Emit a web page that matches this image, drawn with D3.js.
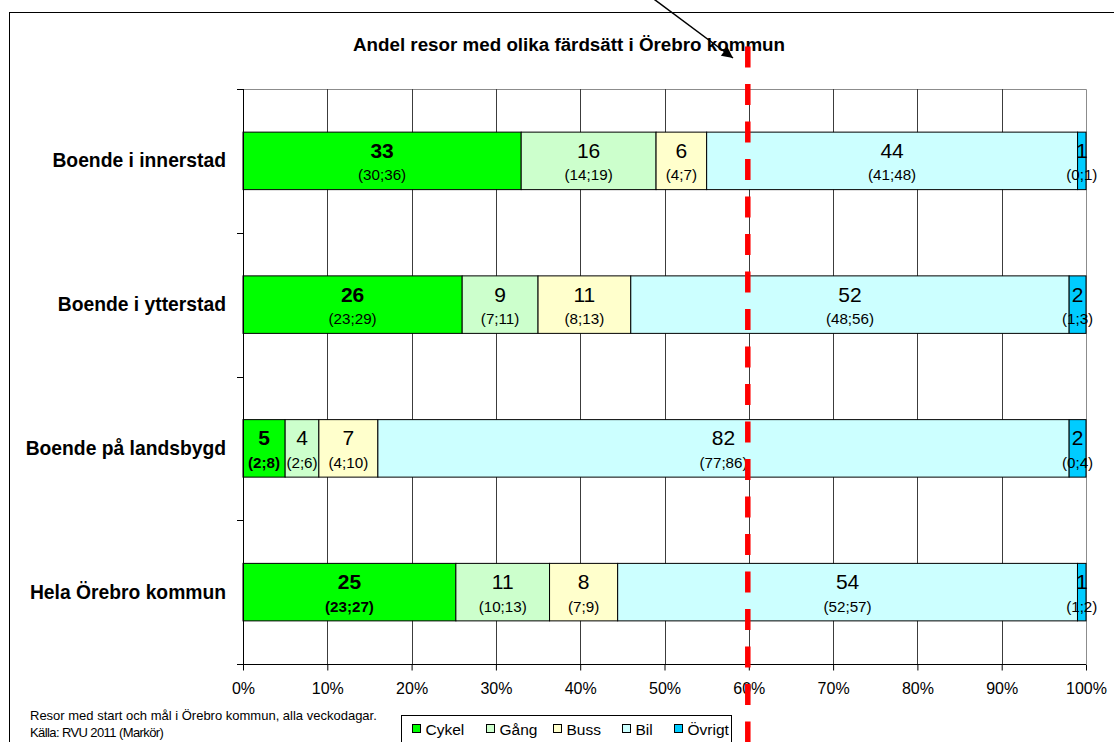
<!DOCTYPE html>
<html>
<head>
<meta charset="utf-8">
<script src="https://cdn.jsdelivr.net/npm/d3@7"></script>
<style>
  html, body { margin: 0; padding: 0; background: #fff; }
  svg { display: block; font-family: "Liberation Sans", Arial, sans-serif; }
</style>
</head>
<body>
<svg id="chart" width="1114" height="742"></svg>
<script>
// Share of trips by travel mode, per area (percent), with confidence intervals
const categories = ["Boende i innerstad", "Boende i ytterstad", "Boende på landsbygd", "Hela Örebro kommun"];
const modes = ["Cykel", "Gång", "Buss", "Bil", "Övrigt"];
const colors = ["#00FF00", "#CCFFCC", "#FFFFCC", "#CCFFFF", "#00CCFF"];

const cykel  = [33, 26, 5, 25];
const gang   = [16, 9, 4, 11];
const buss   = [6, 11, 7, 8];
const bil    = [44, 52, 82, 54];
const ovrigt = [1, 2, 2, 1];

const cykelLow  = [30, 23, 2, 23], cykelHigh  = [36, 29, 8, 27];
const gangLow   = [14, 7, 2, 10],  gangHigh   = [19, 11, 6, 13];
const bussLow   = [4, 8, 4, 7],    bussHigh   = [7, 13, 10, 9];
const bilLow    = [41, 48, 77, 52], bilHigh   = [48, 56, 86, 57];
const ovrigtLow = [0, 1, 0, 1],    ovrigtHigh = [1, 3, 4, 2];

// Cycling intervals printed in bold for these areas
const cykelCiBold = [false, false, true, true];

const xTicks = [0, 0.1, 0.2, 0.3, 0.4, 0.5, 0.6, 0.7, 0.8, 0.9, 1];
const referenceShare = 0.6;

const title = "Andel resor med olika färdsätt i Örebro kommun";
const notes = ["Resor med start och mål i Örebro kommun, alla veckodagar.", "Källa: RVU 2011 (Markör)"];

// ---- build table for the stack ----
const values = [cykel, gang, buss, bil, ovrigt];
const lows = [cykelLow, gangLow, bussLow, bilLow, ovrigtLow];
const highs = [cykelHigh, gangHigh, bussHigh, bilHigh, ovrigtHigh];
const table = categories.map((c, i) => {
  const row = { category: c, index: i };
  modes.forEach((m, k) => row[m] = values[k][i]);
  return row;
});
const series = d3.stack().keys(modes).offset(d3.stackOffsetExpand)(table);

// ---- layout ----
const svg = d3.select("#chart");
const plot = { left: 243, right: 1086, top: 89, bottom: 664 };

const x = d3.scaleLinear().domain([0, 1]).range([plot.left, plot.right]);
const y = d3.scaleBand().domain(categories).range([plot.top, plot.bottom]).paddingInner(0.6).paddingOuter(0.3);

// outer chart frame
svg.append("rect")
  .attr("x", 9.5).attr("y", 12.5).attr("width", 1120).attr("height", 760)
  .attr("fill", "none").attr("stroke", "#000").attr("stroke-width", 1);

// title
svg.append("text")
  .attr("x", 569).attr("y", 51)
  .attr("text-anchor", "middle")
  .attr("font-size", 18.8).attr("font-weight", "bold")
  .text(title);

// plot border (top / right)
svg.append("path")
  .attr("d", `M${plot.left},${plot.top + 0.5}H${plot.right + 0.5}V${plot.bottom}`)
  .attr("fill", "none").attr("stroke", "#8c8c8c").attr("stroke-width", 1);

// vertical gridlines
svg.append("g")
  .selectAll("line")
  .data(xTicks.slice(1, -1))
  .join("line")
  .attr("x1", d => Math.round(x(d)) + 0.5).attr("x2", d => Math.round(x(d)) + 0.5)
  .attr("y1", plot.top).attr("y2", plot.bottom)
  .attr("stroke", "#3c3c3c").attr("stroke-width", 1);

// stacked bars
const layer = svg.append("g").selectAll("g")
  .data(series)
  .join("g")
  .attr("fill", (d, k) => colors[k]);

layer.selectAll("rect")
  .data(d => d)
  .join("rect")
  .attr("x", d => x(d[0]))
  .attr("y", d => y(d.data.category))
  .attr("width", d => x(d[1]) - x(d[0]))
  .attr("height", y.bandwidth())
  .attr("stroke", "#000")
  .attr("stroke-width", 1);

// value labels and confidence intervals
series.forEach((s, k) => {
  const g = svg.append("g").attr("text-anchor", "middle").attr("fill", "#000");
  s.forEach((d, i) => {
    const cx = (x(d[0]) + x(d[1])) / 2;
    const cy = y(d.data.category) + y.bandwidth() / 2;
    g.append("text")
      .attr("x", cx).attr("y", cy - 3)
      .attr("font-size", 21)
      .attr("font-weight", k === 0 ? "bold" : "normal")
      .text(values[k][i]);
    g.append("text")
      .attr("x", cx).attr("y", cy + 19.5)
      .attr("font-size", 15.2)
      .attr("font-weight", k === 0 && cykelCiBold[i] ? "bold" : "normal")
      .text(`(${lows[k][i]};${highs[k][i]})`);
  });
});

// left axis with ticks at band boundaries
const bandEdges = categories.map(c => y(c) - y.step() * y.paddingInner() / 2)
  .map((v, i) => i === 0 ? plot.top : v).concat([plot.bottom]);
const yAxis = svg.append("g");
yAxis.append("line")
  .attr("x1", plot.left + 0.5).attr("x2", plot.left + 0.5)
  .attr("y1", plot.top).attr("y2", plot.bottom + 6)
  .attr("stroke", "#000");
yAxis.selectAll("line.tick")
  .data(bandEdges)
  .join("line").attr("class", "tick")
  .attr("x1", plot.left - 6).attr("x2", plot.left)
  .attr("y1", d => Math.round(d) + 0.5).attr("y2", d => Math.round(d) + 0.5)
  .attr("stroke", "#000");
yAxis.selectAll("text")
  .data(categories)
  .join("text")
  .attr("x", 226)
  .attr("y", d => y(d) + y.bandwidth() / 2 + 6.5)
  .attr("text-anchor", "end")
  .attr("font-size", 19.3).attr("font-weight", "bold")
  .text(d => d);

// bottom axis
const xAxis = d3.axisBottom(x)
  .tickValues(xTicks)
  .tickFormat(d3.format(".0%"))
  .tickSizeInner(6).tickSizeOuter(0).tickPadding(12);
const gx = svg.append("g")
  .attr("transform", `translate(0,${plot.bottom + 0.5})`)
  .call(xAxis);
gx.select(".domain").attr("d", `M${plot.left - 6},0H${plot.right}`).attr("stroke", "#000");
gx.selectAll(".tick line").attr("stroke", "#000");
gx.selectAll(".tick text")
  .attr("font-size", 16)
  .attr("font-family", "Liberation Sans, Arial, sans-serif")
  .attr("fill", "#000");

// footnote
svg.append("g").selectAll("text")
  .data(notes)
  .join("text")
  .attr("x", 30).attr("y", (d, i) => 720 + i * 17)
  .attr("font-size", 13)
  .attr("letter-spacing", (d, i) => i === 1 ? -0.6 : 0)
  .text(d => d);

// legend
const legendX = [412, 486, 553, 622, 674];
const legend = svg.append("g");
legend.append("rect")
  .attr("x", 401.5).attr("y", 715.5).attr("width", 330).attr("height", 40)
  .attr("fill", "#fff").attr("stroke", "#000");
modes.forEach((m, k) => {
  legend.append("rect")
    .attr("x", legendX[k] + 0.5).attr("y", 724.5).attr("width", 8).attr("height", 8)
    .attr("fill", colors[k]).attr("stroke", "#000");
  legend.append("text")
    .attr("x", legendX[k] + 13.5).attr("y", 735)
    .attr("font-size", 15.5)
    .text(m);
});

// reference line at 60 %
svg.append("line")
  .attr("x1", x(referenceShare) - 1).attr("x2", x(referenceShare) - 1)
  .attr("y1", 46.5).attr("y2", 760)
  .attr("stroke", "#FF0000").attr("stroke-width", 5.5)
  .attr("stroke-dasharray", "21,16.5");

// arrow pointing at the reference line
svg.append("defs").append("marker")
  .attr("id", "arrowhead")
  .attr("viewBox", "0 0 10 10")
  .attr("refX", 10).attr("refY", 5)
  .attr("markerWidth", 16).attr("markerHeight", 11)
  .attr("markerUnits", "userSpaceOnUse")
  .attr("orient", "auto")
  .append("path").attr("d", "M0,0L10,5L0,10Z").attr("fill", "#000");
svg.append("line")
  .attr("x1", 639).attr("y1", -12)
  .attr("x2", 733).attr("y2", 58)
  .attr("stroke", "#000").attr("stroke-width", 1.5)
  .attr("marker-end", "url(#arrowhead)");
</script>
</body>
</html>
